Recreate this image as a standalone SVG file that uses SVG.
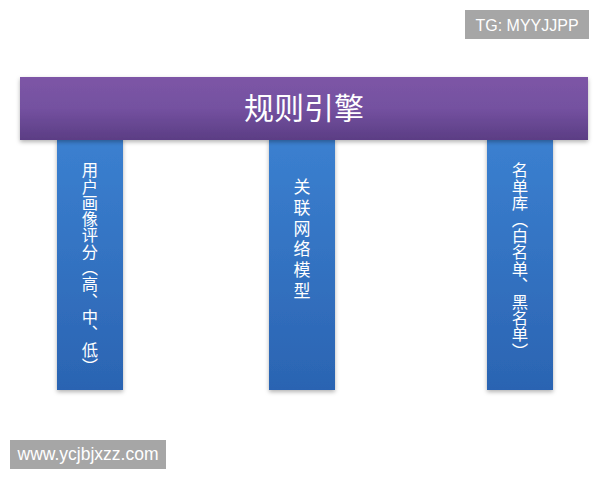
<svg xmlns="http://www.w3.org/2000/svg" width="600" height="480" viewBox="0 0 600 480">
<defs>
<linearGradient id="gPurple" x1="0" y1="0" x2="0" y2="1">
<stop offset="0" stop-color="#7d55a6"/>
<stop offset="0.5" stop-color="#7451a0"/>
<stop offset="1" stop-color="#5b3d84"/>
</linearGradient>
<linearGradient id="gBlue" x1="0" y1="0" x2="0" y2="1">
<stop offset="0" stop-color="#3b80d0"/>
<stop offset="1" stop-color="#2b64b2"/>
</linearGradient>
<filter id="sh" x="-10%" y="-10%" width="120%" height="130%">
<feDropShadow dx="0" dy="2" stdDeviation="2" flood-color="#000" flood-opacity="0.3"/>
</filter>
</defs>
<style>
.pillar{fill:url(#gBlue);filter:url(#sh)}
.vt{font-family:"Noto Sans CJK SC",sans-serif;fill:#ffffff;writing-mode:vertical-rl;text-orientation:upright}
.wm{fill:#a6a6a6}
.wmt{font-family:"Liberation Sans",Arial,sans-serif;fill:#ffffff}
</style>
<rect width="600" height="480" fill="#ffffff"/>
<g id="pillar-left">
<rect class="pillar" x="57" y="138" width="66" height="252"/>
<text class="vt" x="90" y="162" font-size="16.3">用户画像评分（高、中、低）</text>
</g>
<g id="pillar-middle">
<rect class="pillar" x="269" y="138" width="66" height="252"/>
<text class="vt" x="302" y="178" font-size="17" letter-spacing="3.8">关联网络模型</text>
</g>
<g id="pillar-right">
<rect class="pillar" x="487" y="138" width="66" height="252"/>
<text class="vt" x="520" y="162" font-size="16.4">名单库（白名单、黑名单）</text>
</g>
<g id="rule-engine">
<rect x="20" y="77" width="568" height="63" fill="url(#gPurple)" filter="url(#sh)"/>
<text x="304" y="119" text-anchor="middle" font-family="Noto Sans CJK SC, sans-serif" font-size="30" fill="#ffffff">规则引擎</text>
</g>
<g id="connectors"></g>
<g id="watermark-tg">
<rect class="wm" x="465" y="10" width="124" height="29"/>
<text class="wmt" x="527" y="30.500" text-anchor="middle" font-size="16">TG: MYYJJPP</text>
</g>
<g id="watermark-www">
<rect class="wm" x="10" y="440" width="156" height="29"/>
<text class="wmt" x="88" y="460" text-anchor="middle" font-size="17.500">www.ycjbjxzz.com</text>
</g>
</svg>
